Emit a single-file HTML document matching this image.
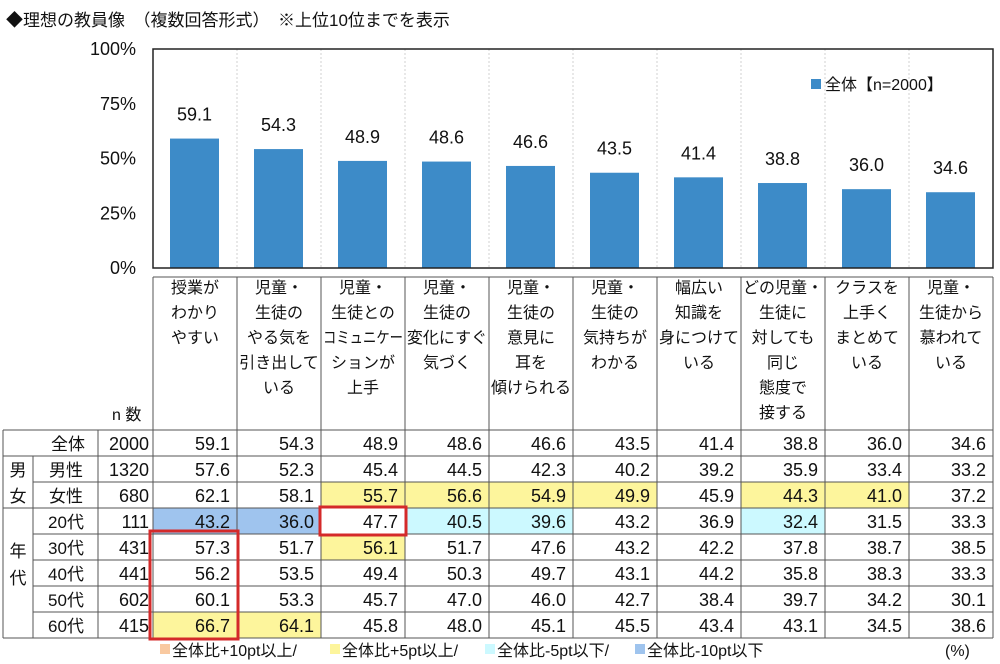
<!DOCTYPE html>
<html><head><meta charset="utf-8">
<style>
html,body{margin:0;padding:0;background:#fff;}
svg{display:block;font-family:"Liberation Sans","Noto Sans CJK JP",sans-serif;}
</style></head>
<body>
<svg id="chart" width="1000" height="664" viewBox="0 0 1000 664" xmlns="http://www.w3.org/2000/svg">
<text x="6" y="26" font-size="17" fill="#111">◆理想の教員像　（複数回答形式）　※上位10位までを表示</text>
<g id="plot"></g>
<g id="table"></g>
<g>
<rect x="811" y="79" width="10" height="10" fill="#3d8bc8"/>
<text x="825" y="90" font-size="16" fill="#111">全体【n=2000】</text>
</g>
<g font-size="16" fill="#111">
<rect x="160" y="644" width="10" height="10" fill="#f9c9a0"/>
<text x="172" y="656">全体比+10pt以上/</text>
<rect x="330" y="644" width="10" height="10" fill="#fdf59c"/>
<text x="342" y="656">全体比+5pt以上/</text>
<rect x="485" y="644" width="10" height="10" fill="#ccf9ff"/>
<text x="497" y="656">全体比-5pt以下/</text>
<rect x="635" y="644" width="10" height="10" fill="#9fc4ee"/>
<text x="647" y="656">全体比-10pt以下</text>
<text x="945" y="656">(%)</text>
</g>
</svg>
<script>
const categories=[["授業が","わかり","やすい"],["児童・","生徒の","やる気を","引き出して","いる"],["児童・","生徒との","コミュニケー","ションが","上手"],["児童・","生徒の","変化にすぐ","気づく"],["児童・","生徒の","意見に","耳を","傾けられる"],["児童・","生徒の","気持ちが","わかる"],["幅広い","知識を","身につけて","いる"],["どの児童・","生徒に","対しても","同じ","態度で","接する"],["クラスを","上手く","まとめて","いる"],["児童・","生徒から","慕われて","いる"]];
const totalValues=[59.1,54.3,48.9,48.6,46.6,43.5,41.4,38.8,36.0,34.6];
const yTicks=[0,25,50,75,100];
const rowLabels=["全体","男性","女性","20代","30代","40代","50代","60代"];
const rowN=[2000,1320,680,111,431,441,602,415];
const tableValues=[
[59.1,54.3,48.9,48.6,46.6,43.5,41.4,38.8,36.0,34.6],
[57.6,52.3,45.4,44.5,42.3,40.2,39.2,35.9,33.4,33.2],
[62.1,58.1,55.7,56.6,54.9,49.9,45.9,44.3,41.0,37.2],
[43.2,36.0,47.7,40.5,39.6,43.2,36.9,32.4,31.5,33.3],
[57.3,51.7,56.1,51.7,47.6,43.2,42.2,37.8,38.7,38.5],
[56.2,53.5,49.4,50.3,49.7,43.1,44.2,35.8,38.3,33.3],
[60.1,53.3,45.7,47.0,46.0,42.7,38.4,39.7,34.2,30.1],
[66.7,64.1,45.8,48.0,45.1,45.5,43.4,43.1,34.5,38.6]];
const NS="http://www.w3.org/2000/svg";
const L=153,T=49,B=268,CW=84,BW=49;
function x(i){return L+i*CW;}
function y(v){return B-v/100*(B-T);}
function mk(tag,attrs,parent,txt){const e=document.createElementNS(NS,tag);for(const k in attrs)e.setAttribute(k,attrs[k]);if(txt!==undefined)e.textContent=txt;parent.appendChild(e);return e;}
const plot=document.getElementById('plot');
for(let i=1;i<10;i++){const g=mk('line',{x1:x(i),x2:x(i),y1:T,y2:B,stroke:'#d0d0d0','stroke-dasharray':'2,2'},plot);

}
yTicks.forEach(t=>{const e=mk('text',{x:136,y:y(t)+6,'font-size':18,'text-anchor':'end',fill:'#111'},plot,t+'%');

});
totalValues.forEach((v,i)=>{const r=mk('rect',{x:x(i)+17,y:y(v),width:BW,height:B-y(v),fill:'#3d8bc8'},plot);


const t=mk('text',{x:x(i)+17+BW/2,y:y(v)-18,'font-size':18,'text-anchor':'middle',fill:'#111'},plot,v.toFixed(1));

});
const fr=mk('rect',{x:L,y:T,width:CW*10,height:B-T,fill:'none',stroke:'#222','stroke-width':1.5},plot);


const tb=document.getElementById('table');
const HT=277,RT=430,RH=26,RB=RT+RH*8;
const hl={"2,2":'#fdf59c',"2,3":'#fdf59c',"2,4":'#fdf59c',"2,5":'#fdf59c',"2,7":'#fdf59c',"2,8":'#fdf59c',"3,0":'#9fc4ee',"3,1":'#9fc4ee',"3,3":'#ccf9ff',"3,4":'#ccf9ff',"3,7":'#ccf9ff',"4,2":'#fdf59c',"7,0":'#fdf59c',"7,1":'#fdf59c'};
tableValues.forEach((row,r)=>row.forEach((v,c)=>{const k=r+','+c;if(hl[k]){const b=mk('rect',{x:x(c),y:RT+r*RH,width:CW,height:RH,fill:hl[k]},tb);

}
const t=mk('text',{x:x(c)+CW-7,y:RT+r*RH+20,'font-size':18,'text-anchor':'end',fill:'#111'},tb,v.toFixed(1));

}));
categories.forEach((lines,i)=>lines.forEach((s,j)=>{const a={x:x(i)+CW/2,y:HT+16+j*25,'font-size':16,'text-anchor':'middle',fill:'#111'};
if(s.length*16>80){a.textLength=80;a.lengthAdjust='spacingAndGlyphs';}
const t=mk('text',a,tb,s);

}));
rowLabels.forEach((s,r)=>{const t=mk('text',{x:r==0?68:66,y:RT+r*RH+20,'font-size':17,'text-anchor':'middle',fill:'#111'},tb,s);


const n=mk('text',{x:149,y:RT+r*RH+20,'font-size':18,'text-anchor':'end',fill:'#111'},tb,rowN[r]);

});
[["男",RT+RH+20],["女",RT+2*RH+20],["年",RT+3*RH+49],["代",RT+3*RH+76]].forEach(a=>{const t=mk('text',{x:18,y:a[1],'font-size':17,'text-anchor':'middle',fill:'#111'},tb,a[0]);

});
const nh=mk('text',{x:112,y:420,'font-size':16,fill:'#111'},tb,'n 数');


const st={stroke:'#555','stroke-width':1};
function ln(x1,y1,x2,y2){const e=mk('line',Object.assign({x1,y1,x2,y2},st),tb);

}
ln(L,HT,993,HT);
for(let i=0;i<=10;i++)ln(x(i),HT,x(i),RB);
ln(3,RT,993,RT);ln(3,RB,993,RB);ln(3,RT,3,RB);ln(33,RT+RH,33,RB);ln(98,RT,98,RB);
for(let r=1;r<8;r++){ln(r==2||r>=4?33:3,RT+r*RH,993,RT+r*RH);}
ln(3,RT+3*RH,33,RT+3*RH);
const boxes=[[x(2)-1,RT+3*RH-1,CW+2,RH+2],[x(0)-3,RT+4*RH-3,CW+4,RH*4+4]];
boxes.forEach(b=>{const e=mk('rect',{x:b[0],y:b[1],width:b[2],height:b[3],fill:'none',stroke:'#d42a2a','stroke-width':3},tb);

});
</script>
</body></html>
